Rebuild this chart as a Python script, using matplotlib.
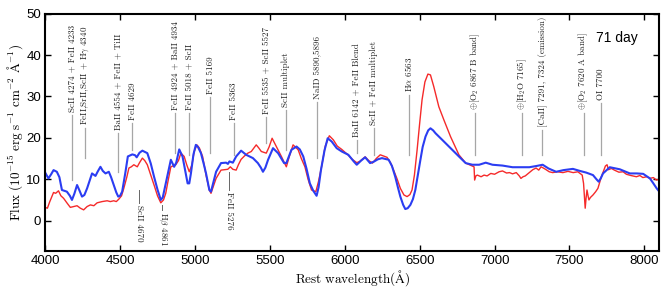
import numpy as np
import matplotlib
matplotlib.use('Agg')
import matplotlib.pyplot as plt

plt.rcParams['font.family'] = ['Liberation Sans', 'DejaVu Sans']
plt.rcParams['mathtext.fontset'] = 'cm'
plt.rcParams['axes.unicode_minus'] = False

# blue spectrum (wavelength, flux)
wl_blue = [4000, 4022, 4040, 4056, 4078, 4095, 4112, 4145, 4165, 4179, 4195, 4213, 4230, 4246, 4262,
           4280, 4313, 4336, 4350, 4369, 4385, 4403, 4425, 4440, 4458, 4475, 4488, 4500, 4514, 4535,
           4552, 4582, 4600, 4611, 4630, 4649, 4682, 4705, 4727, 4750, 4772, 4785, 4805, 4839, 4861,
           4875, 4895, 4917, 4935, 4951, 4962, 4973, 4990, 5006, 5020, 5040, 5060, 5074, 5096, 5107,
           5125, 5141, 5174, 5208, 5220, 5230, 5253, 5275, 5308, 5342, 5387, 5420, 5440, 5454, 5470,
           5488, 5521, 5555, 5595, 5610, 5644, 5678, 5700, 5723, 5745, 5767, 5790, 5812, 5825, 5841,
           5865, 5886, 5913, 5946, 5980, 6024, 6060, 6080, 6109, 6136, 6169, 6192, 6220, 6248, 6293,
           6315, 6337, 6355, 6371, 6390, 6404, 6420, 6438, 6455, 6471, 6490, 6505, 6520, 6539, 6557,
           6572, 6590, 6606, 6651, 6706, 6762, 6807, 6852, 6897, 6941, 6986, 7053, 7120, 7180, 7232,
           7280, 7321, 7360, 7411, 7460, 7523, 7570, 7612, 7657, 7680, 7695, 7710, 7724, 7769, 7836,
           7903, 7950, 7992, 8037, 8060, 8082, 8100]
fl_blue = [11.6, 10.2, 11.2, 12.2, 11.8, 10.5, 7.4, 7.0, 6.0, 5.0, 6.5, 8.6, 7.2, 5.8, 6.2,
           7.8, 11.4, 10.8, 11.8, 13.0, 12.0, 11.4, 11.8, 10.5, 8.6, 6.8, 5.8, 6.0, 7.0, 11.5,
           15.5, 16.0, 15.8, 15.3, 16.4, 16.9, 16.3, 13.8, 10.6, 7.5, 5.0, 5.6, 9.0, 14.7, 13.0,
           14.0, 17.2, 15.5, 12.0, 9.0, 9.0, 11.4, 16.0, 18.3, 17.8, 16.3, 13.5, 11.4, 7.4, 7.0,
           9.5, 11.8, 13.9, 14.0, 13.7, 14.3, 14.0, 15.5, 16.9, 15.9, 15.1, 13.9, 12.8, 11.8, 12.8,
           14.7, 17.5, 16.3, 13.9, 13.9, 17.1, 17.9, 17.2, 15.5, 12.5, 9.0, 7.2, 6.0, 8.0, 12.2,
           17.0, 19.9, 19.1, 17.5, 16.7, 15.9, 14.3, 13.5, 14.5, 15.3, 13.9, 14.2, 14.8, 15.1, 14.7,
           13.2, 10.6, 8.0, 5.8, 3.8, 2.8, 3.0, 3.8, 5.2, 7.4, 11.5, 14.7, 17.8, 20.3, 21.8,
           22.3, 21.8, 21.1, 19.5, 17.5, 15.5, 13.9, 13.5, 13.5, 14.0, 13.5, 13.3, 12.9, 12.9, 12.9,
           13.2, 13.5, 12.6, 11.8, 12.2, 12.5, 12.0, 11.6, 11.0, 10.0, 9.4, 10.3, 11.4, 12.9, 12.4,
           11.4, 11.4, 11.3, 10.2, 9.0, 7.8, 7.0]

# red spectrum (wavelength, flux)
wl_red = [4000, 4015, 4030, 4056, 4070, 4089, 4105, 4123, 4145, 4168, 4190, 4213, 4235, 4257, 4280,
          4302, 4325, 4347, 4380, 4414, 4435, 4458, 4475, 4492, 4510, 4525, 4545, 4559, 4575, 4592,
          4615, 4630, 4649, 4665, 4682, 4705, 4727, 4750, 4772, 4790, 4805, 4820, 4839, 4872, 4890,
          4906, 4928, 4945, 4962, 4980, 4995, 5013, 5030, 5051, 5074, 5096, 5107, 5125, 5141, 5174,
          5219, 5236, 5253, 5275, 5290, 5308, 5330, 5353, 5376, 5395, 5409, 5425, 5443, 5476, 5495,
          5515, 5543, 5577, 5610, 5630, 5655, 5689, 5710, 5734, 5755, 5778, 5807, 5825, 5845, 5870,
          5897, 5924, 5950, 5980, 6024, 6050, 6080, 6100, 6136, 6160, 6185, 6210, 6237, 6260, 6282,
          6305, 6326, 6350, 6371, 6395, 6416, 6435, 6449, 6465, 6483, 6500, 6516, 6535, 6555, 6572,
          6594, 6628, 6662, 6706, 6762, 6807, 6852, 6863, 6867, 6875, 6885, 6910, 6930, 6950, 6975,
          7000, 7030, 7053, 7080, 7100, 7120, 7145, 7165, 7176, 7190, 7205, 7232, 7255, 7277, 7295,
          7310, 7321, 7340, 7365, 7388, 7420, 7456, 7490, 7525, 7556, 7585, 7594, 7600, 7605, 7611,
          7617, 7624, 7630, 7640, 7657, 7675, 7690, 7713, 7740, 7751, 7760, 7780, 7800, 7830, 7858,
          7880, 7910, 7947, 7970, 7990, 8015, 8037, 8060, 8080, 8100]
fl_red = [3.2, 3.0, 4.5, 6.8, 6.6, 7.2, 6.0, 5.4, 4.3, 3.2, 3.4, 3.6, 3.0, 2.6, 3.4,
          3.8, 3.6, 4.3, 4.6, 4.8, 4.6, 4.8, 4.6, 5.2, 6.0, 7.8, 10.5, 12.7, 13.0, 13.5,
          13.0, 14.0, 15.1, 14.5, 13.5, 11.0, 8.6, 6.0, 4.3, 5.0, 6.6, 9.5, 13.0, 13.5, 14.5,
          16.3, 15.5, 13.5, 11.8, 13.5, 16.7, 18.3, 17.5, 15.5, 11.0, 7.4, 6.6, 8.5, 10.2, 12.2,
          12.4, 13.0, 12.4, 12.2, 13.5, 14.8, 15.6, 16.3, 16.7, 17.6, 18.3, 17.6, 16.7, 16.3, 17.8,
          19.9, 17.9, 15.5, 13.0, 15.5, 18.3, 17.1, 15.0, 13.0, 10.0, 7.4, 7.0, 9.5, 13.0, 18.0,
          20.5, 19.5, 18.0, 17.2, 15.8, 14.8, 14.0, 14.3, 15.4, 14.5, 13.9, 15.0, 15.9, 15.6, 15.3,
          14.0, 12.2, 10.0, 7.8, 6.2, 5.8, 6.3, 7.4, 11.0, 17.1, 23.5, 29.2, 33.5, 35.4, 35.2,
          32.4, 27.5, 24.3, 20.3, 15.9, 13.9, 13.2, 13.0, 9.8, 10.8, 11.0, 10.6, 11.0, 10.8, 11.4,
          11.2, 11.8, 12.0, 11.5, 11.6, 11.3, 11.6, 10.8, 10.2, 10.6, 10.8, 11.6, 12.3, 12.7, 12.2,
          13.0, 12.8, 12.4, 11.8, 11.6, 11.8, 11.6, 11.9, 11.6, 11.8, 11.0, 9.0, 5.5, 3.0, 5.5,
          7.4, 6.0, 5.0, 5.6, 6.2, 7.0, 7.8, 10.6, 13.2, 13.5, 12.3, 12.6, 12.2, 11.7, 11.8,
          11.2, 10.9, 10.6, 10.9, 10.4, 10.6, 10.2, 10.4, 9.8, 10.0]

# line identifications above the spectra
top_wl = [4179, 4268, 4485, 4582, 4866, 4962, 5103, 5259, 5477, 5606, 5817,
          6081, 6193, 6427, 6870, 7183, 7317, 7595, 7710]
top_labels = ['ScII 4274 + FeII 4233', r'FeII,SrII,ScII + H$\gamma$ 4340',
              'BaII 4554 + FeII + TiII', 'FeII 4629', 'FeII 4924 + BaII 4934',
              'FeII 5018 + ScII', 'FeII 5169', 'FeII 5363', 'FeII 5535 + ScII 5527',
              'ScII multiplet', 'NaID 5890,5896', 'BaII 6142 + FeII Blend',
              'ScII + FeII multiplet', r'H$\alpha$ 6563', r'$\oplus$[O$_2$ 6867 B band]',
              r'$\oplus$[H$_2$O 7165]', '[CaII] 7291, 7324 (emission)',
              r'$\oplus$[O$_2$ 7620 A band]', 'OI 7700']
top_y0 = [9.8, 15.1, 11.8, 17.1, 16.4, 15.9, 16.4, 15.9, 18.8, 17.1, 15.1,
          16.4, 15.9, 15.9, 15.9, 15.9, 15.9, 15.9, 15.9]
top_y1 = [25.5, 22.4, 21.2, 23.6, 26.0, 26.0, 29.9, 23.6, 25.0, 26.7, 28.7,
          19.5, 22.4, 30.4, 26.0, 26.0, 21.9, 26.0, 28.4]

# line identifications below the spectra
bot_wl = [4626, 4783, 5230]
bot_labels = ['ScII 4670', r'H$\beta$ 4861', 'FeII 5276']
bot_y0 = [7.4, 3.8, 11.8]
bot_y1 = [4.3, 2.6, 7.4]

fig = plt.figure(figsize=(6.64, 2.9), dpi=100)
ax = fig.add_axes([0.068, 0.135, 0.925, 0.818])

ax.plot(wl_red, fl_red, color='#f52a2a', lw=1.0)
ax.plot(wl_blue, fl_blue, color='#2b3df2', lw=1.5)

for w, lab, y0, y1 in zip(top_wl, top_labels, top_y0, top_y1):
    ax.plot([w, w], [y0, y1], color='0.65', lw=0.9)
    ax.text(w, y1 + 0.7, lab, rotation=90, ha='center', va='bottom',
            fontsize=6.5, family='cmr10', color='#222222')

for w, lab, y0, y1 in zip(bot_wl, bot_labels, bot_y0, bot_y1):
    ax.plot([w, w], [y0, y1], color='0.4', lw=0.7)
    ax.text(w, y1 - 0.5, lab, rotation=-90, ha='center', va='top',
            fontsize=6.5, family='cmr10', color='#222222')

ax.text(0.965, 0.88, '71 day', transform=ax.transAxes, ha='right', fontsize=10)

ax.set_xlim(4000, 8100)
ax.set_ylim(-7.3, 50)
ax.set_xticks([4000, 4500, 5000, 5500, 6000, 6500, 7000, 7500, 8000])
ax.set_yticks([0, 10, 20, 30, 40, 50])
ax.tick_params(direction='in', top=True, right=True, length=4, width=1, labelsize=9.5, pad=3)
for s in ax.spines.values():
    s.set_linewidth(1.5)

ax.set_xlabel(r'$\mathrm{Rest\ wavelength(\AA)}$', fontsize=9.5, labelpad=1)
ax.set_ylabel(r'$\mathrm{Flux\ (10^{-15}\ erg\ s^{-1}\ cm^{-2}\ \AA^{-1})}$', fontsize=9.5, labelpad=1)

fig.savefig('out.png', dpi=100)
